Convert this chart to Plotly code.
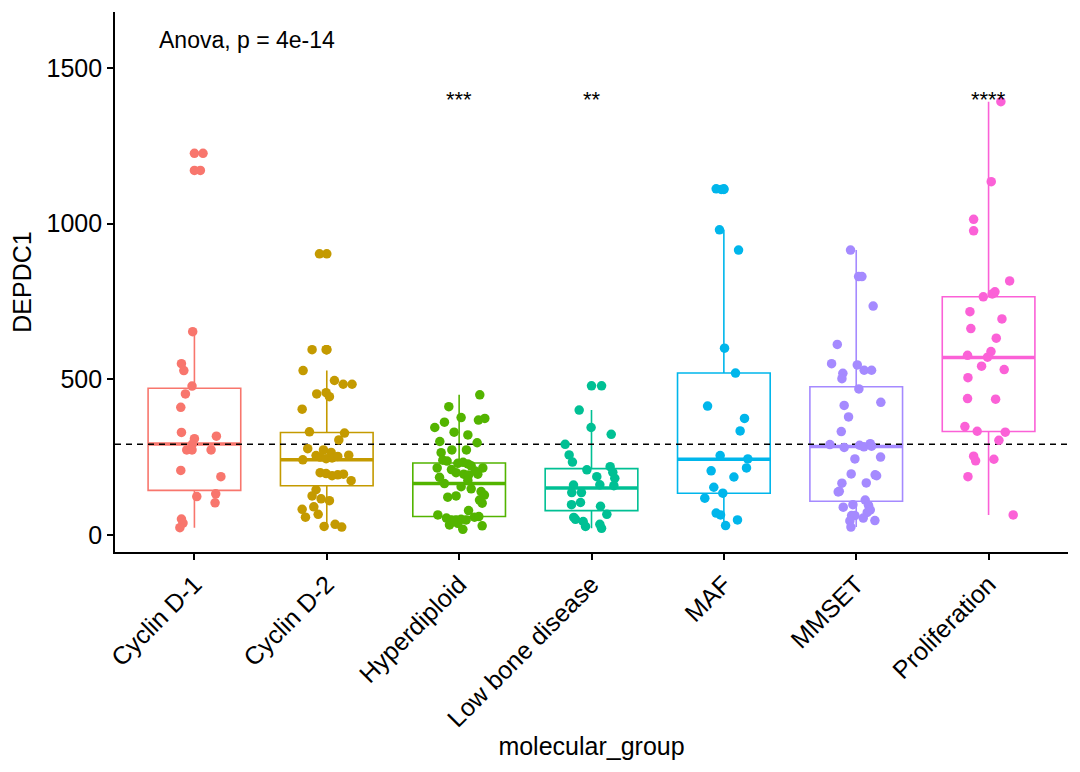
import plotly.graph_objects as go

categories = ["Cyclin D-1", "Cyclin D-2", "Hyperdiploid", "Low bone disease",
              "MAF", "MMSET", "Proliferation"]
colors = ["#F8766D", "#C49A00", "#53B400", "#00C094", "#00B6EB", "#A58AFF", "#FB61D7"]

# values, with the horizontal jitter seen for each point
cyclin_d1_vals = [1226, 1171, 653, 550, 528, 478, 453, 410, 329, 309, 317, 292, 273, 273, 273,
                  207, 187, 123, 132, 103, 51, 38, 23]
cyclin_d1_jit = [0.065, 0.045, -0.013, -0.098, -0.08, -0.018, -0.068, -0.103, -0.098, 0.0, 0.166,
                 -0.015, -0.058, -0.018, 0.126, -0.103, 0.2, 0.018, 0.161, 0.156, -0.098, -0.086, -0.11]

cyclin_d2_vals = [903, 595, 595, 528, 496, 484, 484, 453, 457, 444, 404, 331, 327, 305, 277, 273,
                  265, 255, 250, 245, 247, 252, 256, 241, 200, 197, 190, 193, 195, 174, 145, 125,
                  116, 110, 82, 90, 57, 66, 27, 34, 25]
cyclin_d2_jit = [-0.055, -0.111, -0.005, -0.179, 0.058, 0.124, 0.191, -0.076, -0.005, 0.020, -0.186,
                 -0.131, 0.134, 0.091, -0.144, -0.025, 0.033, -0.081, -0.05, -0.005, 0.040, 0.083,
                 0.166, -0.181, -0.05, -0.005, 0.040, 0.083, 0.126, 0.184, -0.081, -0.111, -0.043,
                 0.020, -0.186, -0.098, -0.161, -0.065, -0.020, 0.063, 0.113]

hyperdiploid_vals = [450, 412, 377, 369, 374, 345, 362, 330, 321, 300, 296, 264, 273, 273, 240, 237,
                     230, 228, 233, 222, 215, 210, 200, 195, 192, 195, 215, 205, 185, 165, 155, 148,
                     175, 139, 128, 102, 112, 121, 125, 78, 64, 54, 48, 48, 50, 48, 57, 59, 32, 18,
                     29, 37, 43]
hyperdiploid_jit = [0.156, -0.078, 0.015, 0.146, 0.194, -0.184, -0.111, -0.038, 0.066, -0.146, 0.136,
                    -0.136, -0.055, 0.055, -0.123, -0.091, -0.010, 0.066, 0.030, 0.091, -0.166, -0.058,
                    -0.023, 0.035, 0.071, 0.141, 0.179, 0.121, -0.148, -0.111, 0.015, 0.091, 0.066,
                    0.166, 0.191, 0.174, 0.154, -0.086, -0.023, 0.071, -0.161, -0.096, -0.060, -0.023,
                    0.015, 0.053, 0.116, 0.149, -0.073, 0.028, 0.174, -0.010, -0.048]

low_bone_vals = [479, 401, 345, 323, 291, 257, 234, 209, 219, 187, 201, 182, 160, 161, 158, 136, 136,
                 97, 104, 92, 66, 56, 50, 43, 27, 34, 21]
low_bone_jit = [0.076, -0.093, -0.003, 0.149, -0.199, -0.169, -0.144, -0.035, 0.141, 0.040, 0.161,
                0.176, -0.136, 0.063, 0.169, -0.149, -0.076, -0.151, -0.083, 0.068, 0.116, -0.134,
                -0.121, -0.063, -0.045, 0.063, 0.076]

maf_vals = [1112, 1110, 980, 915, 600, 520, 414, 374, 334, 255, 244, 206, 215, 186, 153, 134, 118,
            70, 64, 48, 30]
maf_jit = [-0.058, -0.020, -0.033, 0.111, 0.005, 0.088, -0.123, 0.156, 0.123, -0.028, 0.181, -0.096,
           0.171, 0.076, -0.076, -0.008, -0.144, -0.058, -0.025, 0.103, 0.013]

mmset_vals = [915, 830, 830, 735, 612, 550, 546, 519, 502, 529, 529, 469, 416, 426, 379, 332, 290,
              281, 288, 283, 293, 285, 244, 250, 196, 193, 190, 167, 166, 138, 140, 89, 97, 112, 95,
              80, 72, 62, 62, 54, 46, 45, 25]
mmset_jit = [-0.043, 0.018, 0.043, 0.128, -0.143, -0.186, 0.008, -0.101, -0.108, 0.060, 0.116, 0.020,
             -0.091, 0.186, -0.058, -0.113, -0.199, -0.091, 0.025, 0.058, 0.106, 0.116, -0.010, 0.184,
             -0.038, 0.143, 0.154, 0.076, -0.108, -0.136, -0.128, -0.098, -0.025, 0.068, 0.093, 0.106,
             0.083, -0.035, -0.010, 0.053, 0.141, -0.048, -0.040]

prolif_vals = [1392, 1135, 1014, 977, 816, 765, 781, 774, 717, 694, 663, 632, 589, 577, 571, 542, 531,
               505, 438, 436, 348, 333, 330, 304, 253, 238, 243, 187, 64]
prolif_jit = [0.093, 0.020, -0.113, -0.113, 0.159, -0.040, 0.048, 0.028, -0.141, 0.101, -0.134, 0.058,
              0.018, -0.159, -0.008, -0.053, 0.118, -0.156, -0.159, 0.053, -0.179, -0.086, 0.126,
              0.078, -0.113, -0.098, 0.040, -0.156, 0.186]

# box statistics
box_lower = [23, 25, 18, 21, 30, 25, 64]
box_q1 = [143, 158, 59, 78, 134, 108, 332]
box_median = [292, 241, 165, 151, 243, 284, 570]
box_q3 = [471, 329, 231, 213, 520, 476, 765]
box_upper = [653, 528, 450, 401, 980, 915, 1392]

ref_line = 291
signif_labels = ["", "", "***", "**", "", "", "****"]
signif_y = 1400
anova_text = "Anova, p = 4e-14"

all_vals = [cyclin_d1_vals, cyclin_d2_vals, hyperdiploid_vals, low_bone_vals, maf_vals,
            mmset_vals, prolif_vals]
all_jit = [cyclin_d1_jit, cyclin_d2_jit, hyperdiploid_jit, low_bone_jit, maf_jit, mmset_jit,
           prolif_jit]

FONT = "Liberation Sans, Arial, sans-serif"
BOX_W = 0.7

fig = go.Figure()

for i, cat in enumerate(categories):
    pos = i + 1
    fig.add_trace(go.Box(
        x=[pos], q1=[box_q1[i]], median=[box_median[i]], q3=[box_q3[i]],
        lowerfence=[box_lower[i]], upperfence=[box_upper[i]],
        width=BOX_W, whiskerwidth=0, boxpoints=False,
        line=dict(color=colors[i], width=1.6), fillcolor="rgba(255,255,255,0)",
        showlegend=False, hoverinfo="skip"))
    # thicker median line as in ggplot
    fig.add_trace(go.Scatter(
        x=[pos - BOX_W / 2, pos + BOX_W / 2], y=[box_median[i], box_median[i]],
        mode="lines", line=dict(color=colors[i], width=3.5),
        showlegend=False, hoverinfo="skip"))

# dashed reference line
fig.add_trace(go.Scatter(x=[0.4, 7.6], y=[ref_line, ref_line], mode="lines",
                         line=dict(color="black", width=1.6, dash="6px,5px"),
                         showlegend=False, hoverinfo="skip"))

for i, cat in enumerate(categories):
    pos = i + 1
    vals = all_vals[i]
    jit = all_jit[i]
    outl = [v for v in vals if v > box_upper[i]]
    if outl:
        fig.add_trace(go.Scatter(x=[pos] * len(outl), y=outl, mode="markers",
                                 marker=dict(color=colors[i], size=9.5),
                                 showlegend=False, hoverinfo="skip"))
    fig.add_trace(go.Scatter(
        x=[pos + j for j in jit], y=vals, mode="markers",
        marker=dict(color=colors[i], size=9.5),
        name=cat, showlegend=False))

annotations = []
for i, lab in enumerate(signif_labels):
    if lab:
        annotations.append(dict(x=i + 1, y=signif_y, text=lab, showarrow=False,
                                font=dict(family=FONT, size=22, color="black"),
                                xanchor="center", yanchor="middle"))
annotations.append(dict(x=0.72, y=1590, text=anova_text, showarrow=False,
                        font=dict(family=FONT, size=23, color="black"),
                        xanchor="left", yanchor="middle"))

fig.update_layout(
    width=1080, height=772,
    margin=dict(l=107, r=20, t=4, b=228),
    paper_bgcolor="white", plot_bgcolor="white",
    font=dict(family=FONT, color="black"),
    annotations=annotations,
    xaxis=dict(range=[0.4, 7.6], tickmode="array", tickvals=list(range(1, 8)),
               ticktext=categories, tickangle=-45,
               tickfont=dict(family=FONT, size=25, color="black"),
               showline=True, linecolor="black", linewidth=1.6,
               ticks="outside", ticklen=6, tickcolor="black", tickwidth=1.6,
               showgrid=False, zeroline=False,
               title=dict(text="molecular_group", font=dict(family=FONT, size=25),
                          standoff=0)),
    yaxis=dict(range=[-55, 1680], tickmode="array", tickvals=[0, 500, 1000, 1500],
               tickfont=dict(family=FONT, size=25, color="black"),
               showline=True, linecolor="black", linewidth=1.6,
               ticks="outside", ticklen=6, tickcolor="black", tickwidth=1.6,
               showgrid=False, zeroline=False,
               title=dict(text="DEPDC1", font=dict(family=FONT, size=25), standoff=12)),
)

fig.write_html("out.html")
